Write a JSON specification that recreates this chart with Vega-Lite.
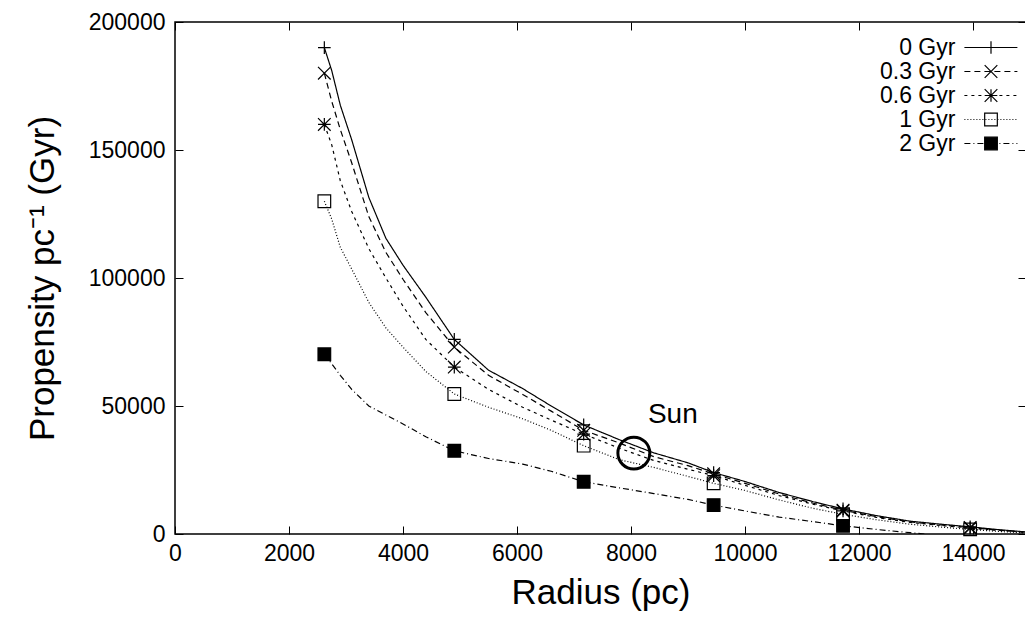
{
  "$schema": "https://vega.github.io/schema/vega-lite/v6.json",
  "width": 851,
  "height": 512,
  "autosize": {"type": "none"},
  "padding": {"left": 175, "top": 22, "right": 0, "bottom": 86},
  "background": "white",
  "config": {
    "font": "Liberation Sans",
    "view": {"stroke": "black", "strokeWidth": 1.5},
    "axis": {"grid": false, "domain": false, "labelFlush": false, "labelOverlap": false, "labelColor": "black", "titleColor": "black", "tickColor": "black", "labelFont": "Liberation Sans", "titleFont": "Liberation Sans"},
    "legend": {"labelFont": "Liberation Sans", "labelColor": "black"}
  },
  "datasets": {
    "curves": [
      {"s":"0 Gyr","r":2620,"p":190000},{"s":"0 Gyr","r":2750,"p":181000},{"s":"0 Gyr","r":2900,"p":167500},{"s":"0 Gyr","r":3100,"p":154000},{"s":"0 Gyr","r":3400,"p":131500},{"s":"0 Gyr","r":3700,"p":115500},{"s":"0 Gyr","r":4000,"p":105000},{"s":"0 Gyr","r":4400,"p":92500},{"s":"0 Gyr","r":4900,"p":76000},{"s":"0 Gyr","r":5500,"p":64000},{"s":"0 Gyr","r":6100,"p":56800},{"s":"0 Gyr","r":6600,"p":50000},{"s":"0 Gyr","r":7170,"p":42600},{"s":"0 Gyr","r":7800,"p":36800},{"s":"0 Gyr","r":8400,"p":31700},{"s":"0 Gyr","r":9000,"p":27800},{"s":"0 Gyr","r":9450,"p":24000},{"s":"0 Gyr","r":10000,"p":20500},{"s":"0 Gyr","r":10600,"p":16200},{"s":"0 Gyr","r":11200,"p":12600},{"s":"0 Gyr","r":11720,"p":9800},{"s":"0 Gyr","r":12300,"p":7200},{"s":"0 Gyr","r":12900,"p":5000},{"s":"0 Gyr","r":13500,"p":3700},{"s":"0 Gyr","r":13950,"p":2800},{"s":"0 Gyr","r":14450,"p":1700},{"s":"0 Gyr","r":14930,"p":800},
      {"s":"0.3 Gyr","r":2620,"p":180000},{"s":"0.3 Gyr","r":2750,"p":169000},{"s":"0.3 Gyr","r":2900,"p":158000},{"s":"0.3 Gyr","r":3100,"p":145000},{"s":"0.3 Gyr","r":3400,"p":124000},{"s":"0.3 Gyr","r":3700,"p":110000},{"s":"0.3 Gyr","r":4000,"p":99500},{"s":"0.3 Gyr","r":4400,"p":86500},{"s":"0.3 Gyr","r":4900,"p":73000},{"s":"0.3 Gyr","r":5500,"p":62000},{"s":"0.3 Gyr","r":6100,"p":54500},{"s":"0.3 Gyr","r":6600,"p":48000},{"s":"0.3 Gyr","r":7170,"p":40500},{"s":"0.3 Gyr","r":7800,"p":35500},{"s":"0.3 Gyr","r":8400,"p":30200},{"s":"0.3 Gyr","r":9000,"p":26700},{"s":"0.3 Gyr","r":9450,"p":23500},{"s":"0.3 Gyr","r":10000,"p":19800},{"s":"0.3 Gyr","r":10600,"p":15600},{"s":"0.3 Gyr","r":11200,"p":12000},{"s":"0.3 Gyr","r":11720,"p":9300},{"s":"0.3 Gyr","r":12300,"p":6800},{"s":"0.3 Gyr","r":12900,"p":4700},{"s":"0.3 Gyr","r":13500,"p":3400},{"s":"0.3 Gyr","r":13950,"p":2500},{"s":"0.3 Gyr","r":14450,"p":1500},{"s":"0.3 Gyr","r":14930,"p":700},
      {"s":"0.6 Gyr","r":2620,"p":160000},{"s":"0.6 Gyr","r":2750,"p":152000},{"s":"0.6 Gyr","r":2900,"p":138000},{"s":"0.6 Gyr","r":3100,"p":126000},{"s":"0.6 Gyr","r":3400,"p":111500},{"s":"0.6 Gyr","r":3700,"p":100000},{"s":"0.6 Gyr","r":4000,"p":89000},{"s":"0.6 Gyr","r":4400,"p":76000},{"s":"0.6 Gyr","r":4900,"p":65200},{"s":"0.6 Gyr","r":5500,"p":56500},{"s":"0.6 Gyr","r":6100,"p":49500},{"s":"0.6 Gyr","r":6600,"p":44500},{"s":"0.6 Gyr","r":7170,"p":39000},{"s":"0.6 Gyr","r":7800,"p":33500},{"s":"0.6 Gyr","r":8400,"p":28700},{"s":"0.6 Gyr","r":9000,"p":25300},{"s":"0.6 Gyr","r":9450,"p":22800},{"s":"0.6 Gyr","r":10000,"p":19000},{"s":"0.6 Gyr","r":10600,"p":15000},{"s":"0.6 Gyr","r":11200,"p":11600},{"s":"0.6 Gyr","r":11720,"p":9000},{"s":"0.6 Gyr","r":12300,"p":6500},{"s":"0.6 Gyr","r":12900,"p":4500},{"s":"0.6 Gyr","r":13500,"p":3200},{"s":"0.6 Gyr","r":13950,"p":2300},{"s":"0.6 Gyr","r":14450,"p":1400},{"s":"0.6 Gyr","r":14930,"p":600},
      {"s":"1 Gyr","r":2620,"p":130000},{"s":"1 Gyr","r":2750,"p":123000},{"s":"1 Gyr","r":2900,"p":112000},{"s":"1 Gyr","r":3100,"p":103500},{"s":"1 Gyr","r":3400,"p":90500},{"s":"1 Gyr","r":3700,"p":80500},{"s":"1 Gyr","r":4000,"p":73000},{"s":"1 Gyr","r":4400,"p":63500},{"s":"1 Gyr","r":4900,"p":54700},{"s":"1 Gyr","r":5500,"p":49500},{"s":"1 Gyr","r":6100,"p":45000},{"s":"1 Gyr","r":6600,"p":40500},{"s":"1 Gyr","r":7170,"p":34500},{"s":"1 Gyr","r":7800,"p":29000},{"s":"1 Gyr","r":8400,"p":26000},{"s":"1 Gyr","r":9000,"p":22500},{"s":"1 Gyr","r":9450,"p":19800},{"s":"1 Gyr","r":10000,"p":17000},{"s":"1 Gyr","r":10600,"p":13300},{"s":"1 Gyr","r":11200,"p":10000},{"s":"1 Gyr","r":11720,"p":7700},{"s":"1 Gyr","r":12300,"p":5600},{"s":"1 Gyr","r":12900,"p":3800},{"s":"1 Gyr","r":13500,"p":2600},{"s":"1 Gyr","r":13950,"p":1800},{"s":"1 Gyr","r":14450,"p":1000},{"s":"1 Gyr","r":14930,"p":400},
      {"s":"2 Gyr","r":2620,"p":70200},{"s":"2 Gyr","r":2750,"p":66500},{"s":"2 Gyr","r":2900,"p":62000},{"s":"2 Gyr","r":3100,"p":56500},{"s":"2 Gyr","r":3400,"p":50000},{"s":"2 Gyr","r":3700,"p":46500},{"s":"2 Gyr","r":4000,"p":43000},{"s":"2 Gyr","r":4400,"p":38000},{"s":"2 Gyr","r":4900,"p":32500},{"s":"2 Gyr","r":5500,"p":29500},{"s":"2 Gyr","r":6100,"p":27300},{"s":"2 Gyr","r":6600,"p":24500},{"s":"2 Gyr","r":7170,"p":20400},{"s":"2 Gyr","r":7800,"p":18000},{"s":"2 Gyr","r":8400,"p":15800},{"s":"2 Gyr","r":9000,"p":13500},{"s":"2 Gyr","r":9450,"p":11300},{"s":"2 Gyr","r":10000,"p":9000},{"s":"2 Gyr","r":10600,"p":6600},{"s":"2 Gyr","r":11200,"p":4800},{"s":"2 Gyr","r":11720,"p":3200},{"s":"2 Gyr","r":12300,"p":1800},{"s":"2 Gyr","r":12900,"p":500},{"s":"2 Gyr","r":13150,"p":0}
    ],
    "sun": [{"r": 8050, "p": 31600, "label": "Sun"}]
  },
  "resolve": {"axis": {"x": "independent", "y": "independent"}},
  "layer": [
    {
      "data": {"name": "curves"},
      "mark": {"type": "line", "color": "black", "strokeWidth": 1.2, "clip": true},
      "encoding": {
        "x": {"field": "r", "type": "quantitative", "scale": {"domain": [0, 14930], "nice": false, "zero": false},
          "axis": {"orient": "bottom", "values": [0,2000,4000,6000,8000,10000,12000,14000], "format": "d", "tickSize": -8, "labelPadding": 16, "labelFontSize": 23, "title": "Radius (pc)", "titleFontSize": 35, "titleFontWeight": "normal", "titlePadding": 10}},
        "y": {"field": "p", "type": "quantitative", "scale": {"domain": [0, 200000], "nice": false},
          "axis": {"orient": "left", "values": [0,50000,100000,150000,200000], "format": "d", "tickSize": -8, "labelPadding": 18, "labelFontSize": 23, "title": "Propensity pc⁻¹ (Gyr)", "titleFontSize": 35, "titleFontWeight": "normal", "titlePadding": 28}},
        "strokeDash": {"field": "s", "type": "nominal",
          "scale": {"domain": ["0 Gyr","0.3 Gyr","0.6 Gyr","1 Gyr","2 Gyr"], "range": [[1,0],[6,4],[3,4],[1,2],[6,3,1,3]]},
          "legend": {"title": null, "orient": "none", "legendX": 804.4, "legendY": 14, "padding": 0, "rowPadding": 0, "labelFontSize": 23, "labelAlign": "right", "symbolType": "M-4,0H4", "symbolSize": 175.6, "symbolOffset": 0, "labelOffset": -47, "symbolStrokeWidth": 1.2, "symbolStrokeColor": "black"}
        }
      }
    },
    {
      "data": {"name": "curves"},
      "transform": [
        {"filter": {"field": "r", "oneOf": [2620]}},
        {"fold": ["s"], "as": ["k", "m"]}
      ],
      "mark": {"type": "line", "strokeWidth": 1.2},
      "encoding": {
        "x": {"field": "r", "type": "quantitative", "axis": null},
        "y": {"field": "p", "type": "quantitative", "axis": null},
        "color": {"field": "m", "type": "nominal",
          "scale": {"domain": ["0 Gyr","0.3 Gyr","0.6 Gyr","1 Gyr","2 Gyr","none"], "range": ["black","black","black","black","black","black"]},
          "legend": {"title": null, "orient": "none", "legendX": 804.5, "legendY": 14, "padding": 0, "rowPadding": 0, "labelFontSize": 23, "labelExpr": "' '", "symbolSize": 160, "symbolStrokeWidth": 1.2, "symbolOpacity": 1}
        }
      }
    },
    {
      "data": {"name": "curves"},
      "transform": [
        {"filter": {"field": "r", "oneOf": [2620, 4900, 7170, 9450, 11720, 13950]}},
        {"fold": ["s"], "as": ["k", "m"]}
      ],
      "mark": {"type": "point", "filled": true, "stroke": "black", "strokeWidth": 1.2, "opacity": 1, "size": 160},
      "encoding": {
        "x": {"field": "r", "type": "quantitative", "axis": {"orient": "top", "values": [0,2000,4000,6000,8000,10000,12000,14000], "labels": false, "tickSize": -8, "title": null}},
        "y": {"field": "p", "type": "quantitative", "axis": {"orient": "right", "values": [0,50000,100000,150000,200000], "labels": false, "tickSize": -8, "title": null}},
        "shape": {"field": "m", "type": "nominal", "legend": null,
          "scale": {"domain": ["0 Gyr","0.3 Gyr","0.6 Gyr","1 Gyr","2 Gyr","none"], "range": ["M-1,0H1M0,-1V1", "M-1,-1L1,1M-1,1L1,-1", "M-1,0H1M0,-1V1M-1,-1L1,1M-1,1L1,-1", "M-1,-1H1V1H-1Z", "M-1,-1H1V1H-1Z", "M0,0"]}},
        "fill": {"field": "m", "type": "nominal", "legend": null,
          "scale": {"domain": ["0 Gyr","0.3 Gyr","0.6 Gyr","1 Gyr","2 Gyr","none"], "range": ["transparent","transparent","transparent","transparent","black","transparent"]}}
      }
    },
    {
      "data": {"name": "sun"},
      "mark": {"type": "point", "shape": "circle", "size": 1020, "filled": false, "stroke": "black", "strokeWidth": 3, "opacity": 1},
      "encoding": {
        "x": {"field": "r", "type": "quantitative", "axis": null},
        "y": {"field": "p", "type": "quantitative", "axis": null}
      }
    },
    {
      "data": {"name": "sun"},
      "mark": {"type": "text", "fontSize": 28, "font": "Liberation Sans", "color": "black", "dx": 39, "dy": -38, "align": "center", "baseline": "middle"},
      "encoding": {
        "x": {"field": "r", "type": "quantitative", "axis": null},
        "y": {"field": "p", "type": "quantitative", "axis": null},
        "text": {"field": "label"}
      }
    }
  ]
}
